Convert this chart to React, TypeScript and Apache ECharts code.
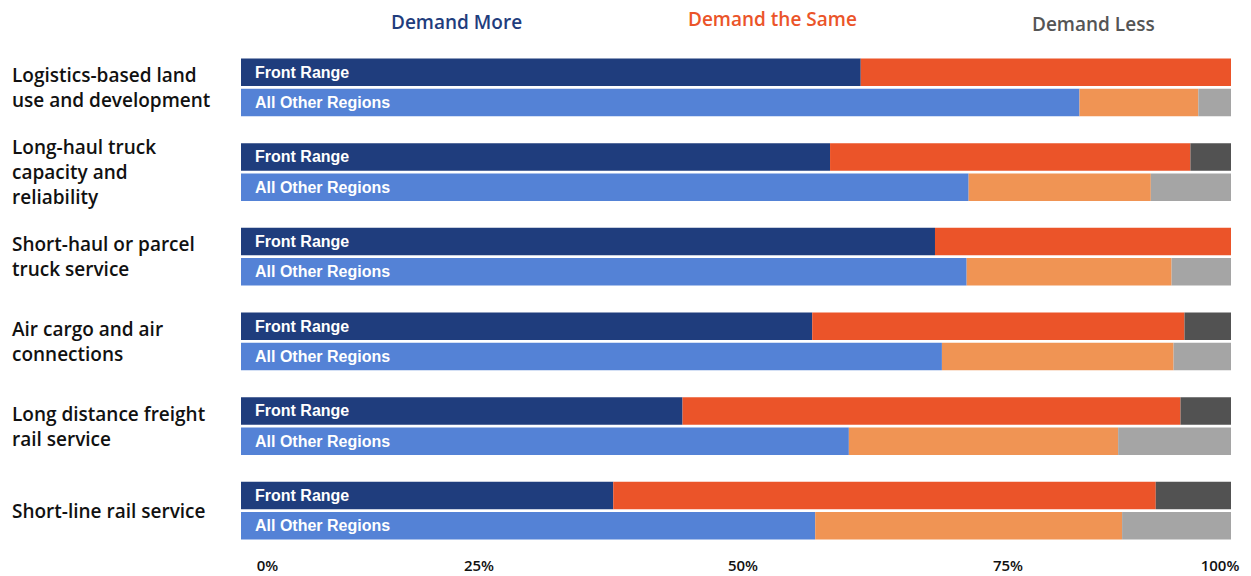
import React, { useEffect, useRef } from "react";
import * as echarts from "echarts";

const categories = [
  "Logistics-based land\nuse and development",
  "Long-haul truck\ncapacity and\nreliability",
  "Short-haul or parcel\ntruck service",
  "Air cargo and air\nconnections",
  "Long distance freight\nrail service",
  "Short-line rail service",
];

const groups = ["Front Range", "All Other Regions"];
const responses = ["Demand More", "Demand the Same", "Demand Less"];

const frMore = [62.6, 59.5, 70.1, 57.7, 44.6, 37.6];
const frSame = [37.4, 36.4, 29.9, 37.6, 50.3, 54.8];
const frLess = [0, 4.1, 0, 4.7, 5.1, 7.6];

const aorMore = [84.7, 73.5, 73.3, 70.8, 61.4, 58.0];
const aorSame = [12.0, 18.4, 20.7, 23.4, 27.2, 31.0];
const aorLess = [3.3, 8.1, 6.0, 5.8, 11.4, 11.0];

const tickLabels = ["0%", "25%", "50%", "75%", "100%"];

const frColors = ["#1F3D7D", "#EB5429", "#525252"];
const aorColors = ["#5482D6", "#F09454", "#A5A5A5"];
const legendColors = ["#1F3D7D", "#EB5429", "#555555"];

const FONT = "'Open Sans', 'Noto Sans', sans-serif";

export default function App() {
  const ref = useRef<HTMLDivElement>(null);

  useEffect(() => {
    if (!ref.current) return;
    const chart = echarts.init(ref.current, null, { renderer: "svg" });

    const barLabel = (text: string) => ({
      show: true,
      position: "insideLeft" as const,
      distance: 14,
      formatter: text,
      color: "#FFFFFF",
      fontFamily: "'Liberation Sans', Arial, sans-serif",
      fontWeight: "bold" as const,
      fontSize: 16,
    });

    const mk = (
      name: string,
      stack: string,
      data: number[],
      color: string,
      label?: string
    ) => ({
      name,
      type: "bar" as const,
      stack,
      data,
      barWidth: 27.5,
      barGap: "10%",
      itemStyle: { color },
      label: label ? barLabel(label) : { show: false },
      emphasis: { disabled: true },
    });

    const frSeries = [frMore, frSame, frLess];
    const aorSeries = [aorMore, aorSame, aorLess];

    const series = [
      ...frSeries.map((d, i) =>
        mk(responses[i], "fr", d, frColors[i], i === 0 ? groups[0] : undefined)
      ),
      ...aorSeries.map((d, i) =>
        mk(responses[i], "aor", d, aorColors[i], i === 0 ? groups[1] : undefined)
      ),
    ];

    const legendLeft = [381, 678, 1022];
    const legendTop = [7, 4, 9];

    const labelShift: Record<string, any> = {
      r0: { padding: [0, 0, 0, 53] },
      r1: { padding: [0, 19, 0, 0] },
      r2: { padding: [0, 0, 0, 14] },
      r3: { padding: [0, 0, 0, 49] },
      r4: { padding: [0, 22, 0, 0] },
    };
    Object.keys(labelShift).forEach((k) => {
      labelShift[k] = {
        ...labelShift[k],
        fontFamily: FONT,
        fontWeight: 600,
        fontSize: 15,
        lineHeight: 16,
        color: "#111111",
      };
    });

    chart.setOption({
      animation: false,
      backgroundColor: "#FFFFFF",
      legend: responses.map((r, i) => ({
        data: [{ name: r, textStyle: { color: legendColors[i] } }],
        left: legendLeft[i],
        top: legendTop[i],
        itemWidth: 0,
        itemHeight: 0,
        selectedMode: false,
        textStyle: {
          fontFamily: FONT,
          fontWeight: 600,
          fontSize: 19,
          color: legendColors[i],
        },
      })),
      grid: {
        left: 241,
        right: 20,
        top: 45,
        bottom: 23,
        containLabel: false,
        outerBoundsMode: "none",
      },
      xAxis: {
        type: "value",
        min: 0,
        max: 100,
        interval: 25,
        splitLine: { show: false },
        axisLine: { show: false },
        axisTick: { show: false },
        axisLabel: {
          margin: 4,
          fontFamily: FONT,
          fontWeight: 600,
          fontSize: 15,
          lineHeight: 16,
          color: "#111111",
          formatter: (v: number) => {
            const idx = Math.round(v / 25);
            return `{r${idx}|${tickLabels[idx]}}`;
          },
          rich: labelShift,
        },
      },
      yAxis: {
        type: "category",
        data: categories,
        inverse: true,
        axisLine: { show: false },
        axisTick: { show: false },
        axisLabel: {
          align: "left",
          margin: 229,
          fontFamily: FONT,
          fontWeight: 600,
          fontSize: 19,
          lineHeight: 25,
          color: "#111111",
        },
      },
      series,
    });

    return () => chart.dispose();
  }, []);

  return (
    <div
      ref={ref}
      style={{ position: "absolute", left: 0, top: 0, width: 1251, height: 576 }}
    />
  );
}
